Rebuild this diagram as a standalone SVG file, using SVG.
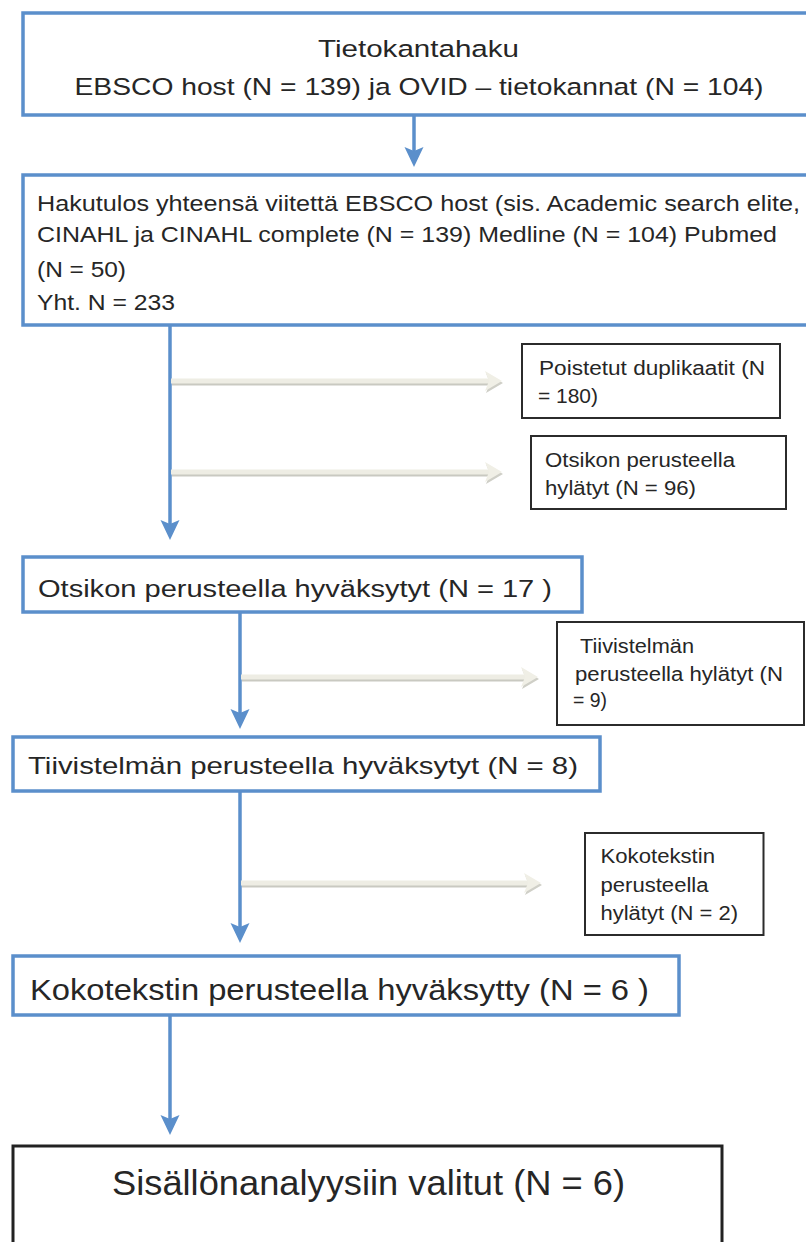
<svg xmlns="http://www.w3.org/2000/svg" width="806" height="1242" viewBox="0 0 806 1242">
  <style>
    .bg { fill: #ffffff; }
    .blue { fill: #ffffff; stroke: #5b8fcb; stroke-width: 3.5; }
    .black { fill: #ffffff; stroke: #2b2b2b; stroke-width: 2; }
    .final { fill: #ffffff; stroke: #222222; stroke-width: 3; }
    .t { font-family: "Liberation Sans", Arial, sans-serif; fill: #262626; }
    .big { font-size: 24.5px; }
    .mid { font-size: 22px; }
    .side { font-size: 20px; }
    .flow { stroke: #5b8fcb; stroke-width: 3.5; fill: none; }
    .gline { stroke: #eeede4; stroke-width: 5; fill: none; }
    .gshadow { stroke: #c9c9c1; stroke-width: 5; fill: none; }
  </style>
  <defs>
    <marker id="bh" markerUnits="userSpaceOnUse" markerWidth="22" markerHeight="22" viewBox="0 -11 22 22" refX="4" refY="0" orient="auto" overflow="visible">
      <path d="M0,-9.5 L20,0 L0,9.5 L4,0 Z" fill="#5b8fcb"/>
    </marker>
    <marker id="gh" markerUnits="userSpaceOnUse" markerWidth="22" markerHeight="24" viewBox="0 -12 22 24" refX="4" refY="0" orient="auto" overflow="visible">
      <path d="M0,-10 L17,0 L0,10 L4,0 Z" fill="#f0efe6"/>
    </marker>
    <marker id="ghs" markerUnits="userSpaceOnUse" markerWidth="22" markerHeight="24" viewBox="0 -12 22 24" refX="4" refY="0" orient="auto" overflow="visible">
      <path d="M0,-10 L17,0 L0,10 L4,0 Z" fill="#cfcfc7"/>
    </marker>
  </defs>
  <rect class="bg" x="0" y="0" width="806" height="1242"/>

  <g id="connectors">
    <line class="flow" x1="414" y1="115" x2="414" y2="151" marker-end="url(#bh)"/>
    <line class="flow" x1="170" y1="325" x2="170" y2="524" marker-end="url(#bh)"/>
    <line class="flow" x1="240" y1="613" x2="240" y2="713" marker-end="url(#bh)"/>
    <line class="flow" x1="240" y1="791" x2="240" y2="927" marker-end="url(#bh)"/>
    <line class="flow" x1="170" y1="1015" x2="170" y2="1119" marker-end="url(#bh)"/>

    <line class="gshadow" x1="172" y1="383" x2="490" y2="383" marker-end="url(#ghs)"/>
    <line class="gline" x1="171" y1="381" x2="489" y2="381" marker-end="url(#gh)"/>
    <line class="gshadow" x1="172" y1="474" x2="490" y2="474" marker-end="url(#ghs)"/>
    <line class="gline" x1="171" y1="472" x2="489" y2="472" marker-end="url(#gh)"/>
    <line class="gshadow" x1="242" y1="679" x2="526" y2="679" marker-end="url(#ghs)"/>
    <line class="gline" x1="241" y1="677" x2="525" y2="677" marker-end="url(#gh)"/>
    <line class="gshadow" x1="242" y1="885" x2="529" y2="885" marker-end="url(#ghs)"/>
    <line class="gline" x1="241" y1="883" x2="528" y2="883" marker-end="url(#gh)"/>
  </g>

  <g id="node-tietokantahaku">
    <rect class="blue" x="23" y="13" width="810" height="102"/>
    <text class="t big" x="318" y="57" textLength="201" lengthAdjust="spacingAndGlyphs">Tietokantahaku</text>
    <text class="t big" x="74.5" y="95" textLength="689" lengthAdjust="spacingAndGlyphs">EBSCO host (N = 139) ja OVID – tietokannat (N = 104)</text>
  </g>

  <g id="node-hakutulos">
    <rect class="blue" x="23" y="175" width="810" height="150"/>
    <text class="t mid" x="37" y="211" textLength="763" lengthAdjust="spacingAndGlyphs">Hakutulos yhteensä viitettä EBSCO host (sis. Academic search elite,</text>
    <text class="t mid" x="37" y="242" textLength="740" lengthAdjust="spacingAndGlyphs">CINAHL ja CINAHL complete (N = 139) Medline (N = 104) Pubmed</text>
    <text class="t mid" x="37" y="277" textLength="89" lengthAdjust="spacingAndGlyphs">(N = 50)</text>
    <text class="t mid" x="37" y="310" textLength="138" lengthAdjust="spacingAndGlyphs">Yht. N = 233</text>
  </g>

  <g id="node-poistetut">
    <rect class="black" x="522" y="344" width="258" height="74"/>
    <text class="t side" x="539" y="375" textLength="226" lengthAdjust="spacingAndGlyphs">Poistetut duplikaatit (N</text>
    <text class="t side" x="538" y="403" textLength="60" lengthAdjust="spacingAndGlyphs">= 180)</text>
  </g>

  <g id="node-otsikon-hylatyt">
    <rect class="black" x="531" y="436" width="255" height="73"/>
    <text class="t side" x="545" y="467" textLength="190" lengthAdjust="spacingAndGlyphs">Otsikon perusteella</text>
    <text class="t side" x="545" y="495" textLength="151" lengthAdjust="spacingAndGlyphs">hylätyt (N = 96)</text>
  </g>

  <g id="node-otsikon-hyvaksytyt">
    <rect class="blue" x="23" y="557" width="559" height="55"/>
    <text class="t" font-size="23" x="38" y="597" textLength="514" lengthAdjust="spacingAndGlyphs">Otsikon perusteella hyväksytyt (N = 17 )</text>
  </g>

  <g id="node-tiivistelman-hylatyt">
    <rect class="black" x="557" y="622" width="247" height="103"/>
    <text class="t side" x="580" y="653" textLength="114" lengthAdjust="spacingAndGlyphs">Tiivistelmän</text>
    <text class="t side" x="575" y="681" textLength="208" lengthAdjust="spacingAndGlyphs">perusteella hylätyt (N</text>
    <text class="t side" x="573" y="707" textLength="34" lengthAdjust="spacingAndGlyphs">= 9)</text>
  </g>

  <g id="node-tiivistelman-hyvaksytyt">
    <rect class="blue" x="13" y="737" width="587" height="54"/>
    <text class="t" font-size="24" x="28" y="774" textLength="550" lengthAdjust="spacingAndGlyphs">Tiivistelmän perusteella hyväksytyt (N = 8)</text>
  </g>

  <g id="node-kokotekstin-hylatyt">
    <rect class="black" x="585" y="833" width="178.5" height="102"/>
    <text class="t side" x="600.5" y="863" textLength="114.5" lengthAdjust="spacingAndGlyphs">Kokotekstin</text>
    <text class="t side" x="600.5" y="892" textLength="108" lengthAdjust="spacingAndGlyphs">perusteella</text>
    <text class="t side" x="600.5" y="920" textLength="137.5" lengthAdjust="spacingAndGlyphs">hylätyt (N = 2)</text>
  </g>

  <g id="node-kokotekstin-hyvaksytty">
    <rect class="blue" x="13" y="956" width="666" height="59"/>
    <text class="t" font-size="29" x="30" y="1000" textLength="619" lengthAdjust="spacingAndGlyphs">Kokotekstin perusteella hyväksytty (N = 6 )</text>
  </g>

  <g id="node-sisallonanalyysi">
    <rect class="final" x="13" y="1146" width="709" height="120"/>
    <text class="t" font-size="35" x="112" y="1195" textLength="513" lengthAdjust="spacingAndGlyphs">Sisällönanalyysiin valitut (N = 6)</text>
  </g>
</svg>
